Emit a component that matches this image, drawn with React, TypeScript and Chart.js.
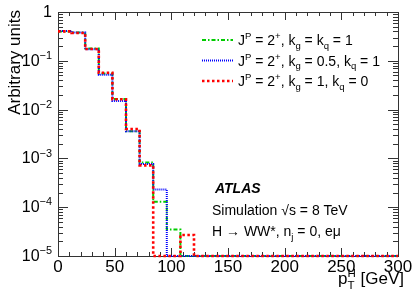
import React, { useEffect, useRef } from 'react';
import { Chart, registerables } from 'chart.js';

Chart.register(...registerables);

// ---- data ----
const binEdges = [0, 12, 24, 36, 48, 60, 72, 84, 96, 108, 120, 132];
const xEnd = 300;
const greenVals = [0.4, 0.38, 0.178, 0.055, 0.0165, 0.0036, 8.2e-4, 1.3e-4, 3.5e-5, 0, 0, 0];
const blueVals = [0.41, 0.38, 0.172, 0.052, 0.015, 0.0036, 7.7e-4, 2.3e-4, 0, 0, 0, 0];
const redVals = [0.4, 0.37, 0.174, 0.057, 0.0163, 0.004, 7.2e-4, 0, 0, 2.7e-5, 0, 0];
const xMajorTicks = [0, 50, 100, 150, 200, 250, 300];
const yDecades = [0, -1, -2, -3, -4, -5];

const Y_MIN = 1e-5;
const Y_MAX = 1;
const FAMILY = '"Liberation Sans", Arial, Helvetica, sans-serif';

type Mode = 'n' | 'sup' | 'sub' | 'ss';
type Part = [string, Mode, string?];

function histPoints(vals: number[]) {
  const pts: { x: number; y: number }[] = [];
  vals.forEach((v, i) => {
    const lo = binEdges[i];
    const hi = i + 1 < binEdges.length ? binEdges[i + 1] : xEnd;
    const y = Math.max(v, Y_MIN);
    pts.push({ x: lo, y });
    pts.push({ x: hi, y });
  });
  return pts;
}

function drawRich(
  ctx: CanvasRenderingContext2D,
  parts: Part[],
  x: number,
  y: number,
  size: number,
  align: 'left' | 'right' = 'left',
  style = ''
) {
  const small = size * 0.68;
  const fnt = (s: number) => `${style} ${s}px ${FAMILY}`;
  const widths = parts.map(([t, m, t2]) => {
    if (m === 'n') {
      ctx.font = fnt(size);
      return ctx.measureText(t).width;
    }
    ctx.font = fnt(small);
    if (m === 'ss') return Math.max(ctx.measureText(t).width, ctx.measureText(t2 || '').width);
    return ctx.measureText(t).width;
  });
  const total = widths.reduce((a, b) => a + b, 0);
  let cx = align === 'left' ? x : x - total;
  ctx.textAlign = 'left';
  ctx.textBaseline = 'alphabetic';
  parts.forEach(([t, m, t2], i) => {
    if (m === 'n') {
      ctx.font = fnt(size);
      ctx.fillText(t, cx, y);
    } else if (m === 'sup') {
      ctx.font = fnt(small);
      ctx.fillText(t, cx, y - size * 0.42);
    } else if (m === 'sub') {
      ctx.font = fnt(small);
      ctx.fillText(t, cx, y + size * 0.25);
    } else {
      ctx.font = fnt(small);
      ctx.fillText(t, cx, y - size * 0.42);
      ctx.fillText(t2 || '', cx, y + size * 0.28);
    }
    cx += widths[i];
  });
}

const series = [
  {
    vals: greenVals,
    color: '#00cc00',
    width: 2,
    dash: [4, 2, 1.5, 2],
    order: 3,
    label: [
      ['J', 'n'], ['P', 'sup'], [' = 2', 'n'], ['+', 'sup'], [', k', 'n'], ['g', 'sub'],
      [' = k', 'n'], ['q', 'sub'], [' = 1', 'n'],
    ] as Part[],
  },
  {
    vals: blueVals,
    color: '#0000ff',
    width: 2,
    dash: [1, 1],
    order: 2,
    label: [
      ['J', 'n'], ['P', 'sup'], [' = 2', 'n'], ['+', 'sup'], [', k', 'n'], ['g', 'sub'],
      [' = 0.5, k', 'n'], ['q', 'sub'], [' = 1', 'n'],
    ] as Part[],
  },
  {
    vals: redVals,
    color: '#ff0000',
    width: 2.6,
    dash: [2.5, 2.5],
    order: 1,
    label: [
      ['J', 'n'], ['P', 'sup'], [' = 2', 'n'], ['+', 'sup'], [', k', 'n'], ['g', 'sub'],
      [' = 1, k', 'n'], ['q', 'sub'], [' = 0', 'n'],
    ] as Part[],
  },
];

const framePlugin = {
  id: 'rootFrame',
  beforeDatasetsDraw(chart: any) {
    const { ctx, chartArea: a, scales } = chart;
    const xs = scales.x;
    const ys = scales.y;
    ctx.save();
    ctx.strokeStyle = '#333';
    ctx.lineWidth = 1;
    ctx.strokeRect(Math.round(a.left) + 0.5, Math.round(a.top) + 0.5, Math.round(a.right - a.left), Math.round(a.bottom - a.top));
    ctx.beginPath();
    // x ticks
    for (let v = 0; v <= 300; v += 10) {
      const px = Math.round(xs.getPixelForValue(v)) + 0.5;
      const len = v % 50 === 0 ? 8 : 4;
      ctx.moveTo(px, a.bottom);
      ctx.lineTo(px, a.bottom - len);
      ctx.moveTo(px, a.top);
      ctx.lineTo(px, a.top + len);
    }
    // y ticks
    for (let k = -5; k <= 0; k++) {
      for (let m = 1; m <= 9; m++) {
        const v = m * Math.pow(10, k);
        if (v > Y_MAX * 1.0001) continue;
        const py = Math.round(ys.getPixelForValue(v)) + 0.5;
        const len = m === 1 ? 10 : 5;
        ctx.moveTo(a.left, py);
        ctx.lineTo(a.left + len, py);
        ctx.moveTo(a.right, py);
        ctx.lineTo(a.right - len, py);
      }
    }
    ctx.stroke();
    ctx.restore();
  },
  afterDraw(chart: any) {
    const { ctx, chartArea: a, scales } = chart;
    const xs = scales.x;
    const ys = scales.y;
    ctx.save();
    ctx.fillStyle = '#000';
    // x tick labels
    ctx.font = `17px ${FAMILY}`;
    ctx.textAlign = 'center';
    ctx.textBaseline = 'alphabetic';
    xMajorTicks.forEach((v) => {
      ctx.font = `17px ${FAMILY}`;
      ctx.textAlign = 'center';
      ctx.fillText(String(v), xs.getPixelForValue(v), a.bottom + 16);
    });
    // y tick labels
    yDecades.forEach((k) => {
      const py = ys.getPixelForValue(Math.pow(10, k));
      if (k === 0) {
        drawRich(ctx, [['1', 'n']], 52, py + 5, 16, 'right');
      } else {
        drawRich(ctx, [['10', 'n'], ['\u2212' + String(-k), 'sup']], 52, py + 5, 16, 'right');
      }
    });
    // axis titles
    ctx.save();
    ctx.translate(20, 10);
    ctx.rotate(-Math.PI / 2);
    ctx.font = `17px ${FAMILY}`;
    ctx.textAlign = 'right';
    ctx.fillText('Arbitrary units', 0, 0);
    ctx.restore();
    drawRich(ctx, [['p', 'n'], ['H', 'ss', 'T'], [' [GeV]', 'n']], 404, 284, 17, 'right');

    // legend
    series.forEach((s, i) => {
      const yc = 40 + i * 20.5;
      ctx.save();
      ctx.strokeStyle = s.color;
      ctx.lineWidth = s.width;
      ctx.setLineDash(s.dash);
      ctx.beginPath();
      ctx.moveTo(202, yc);
      ctx.lineTo(233, yc);
      ctx.stroke();
      ctx.restore();
      ctx.fillStyle = '#000';
      drawRich(ctx, s.label, 238, yc + 5, 14, 'left');
    });

    // ATLAS labels
    ctx.fillStyle = '#000';
    drawRich(ctx, [['ATLAS', 'n']], 215, 193, 14, 'left', 'italic bold');
    drawRich(ctx, [['Simulation \u221As = 8 TeV', 'n']], 212, 215, 14, 'left');
    drawRich(ctx, [['H \u2192 WW*, n', 'n'], ['j', 'sub'], [' = 0, e\u03BC', 'n']], 212, 236, 14, 'left');
    ctx.restore();
  },
};

export default function App() {
  const ref = useRef<HTMLCanvasElement>(null);
  useEffect(() => {
    if (!ref.current) return;
    const chart = new Chart(ref.current, {
      type: 'line',
      data: {
        datasets: series.map((s) => ({
          label: 'x',
          data: histPoints(s.vals),
          borderColor: s.color,
          borderWidth: s.width,
          borderDash: s.dash,
          pointRadius: 0,
          fill: false,
          tension: 0,
          clip: false as any,
          order: s.order,
        })),
      },
      options: {
        responsive: false,
        animation: false,
        layout: { padding: { left: 58, right: 17, top: 12, bottom: 42 } },
        plugins: { legend: { display: false }, tooltip: { enabled: false } },
        scales: {
          x: { type: 'linear', min: 0, max: xEnd, display: false },
          y: { type: 'logarithmic', min: Y_MIN, max: Y_MAX, display: false },
        },
      },
      plugins: [framePlugin],
    });
    return () => chart.destroy();
  }, []);
  return (
    <div style={{ position: 'fixed', left: 0, top: 0, width: 415, height: 298, background: '#fff' }}>
      <canvas ref={ref} width={415} height={298} style={{ width: 415, height: 298 }} />
    </div>
  );
}
